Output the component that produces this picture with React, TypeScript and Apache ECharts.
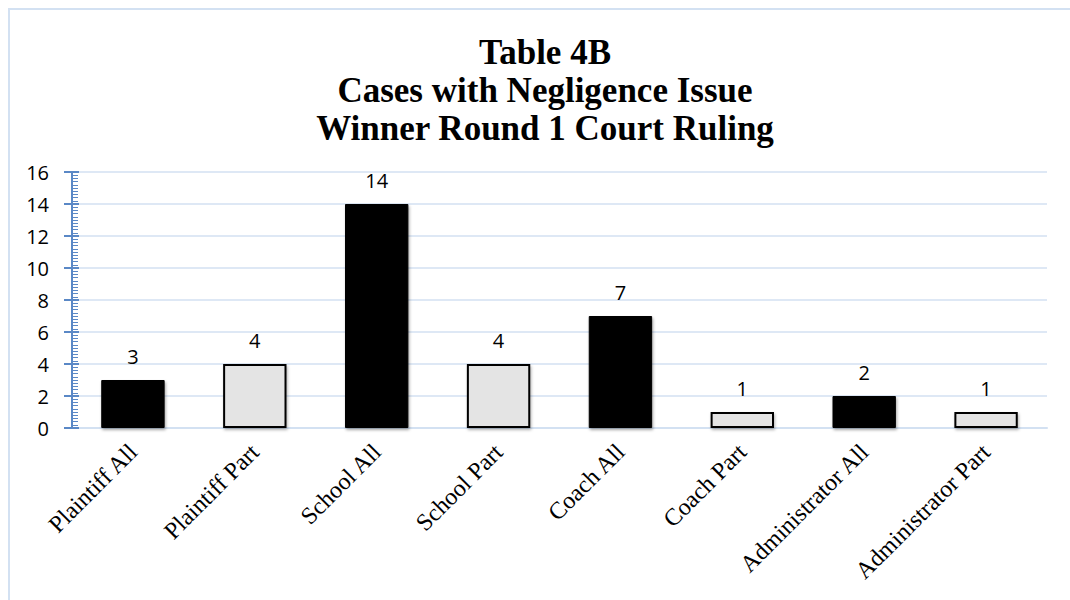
import React, { useEffect, useRef } from "react";
import * as echarts from "echarts";

const categories = [
  "Plaintiff All",
  "Plaintiff Part",
  "School All",
  "School Part",
  "Coach All",
  "Coach Part",
  "Administrator All",
  "Administrator Part",
];
const values = [3, 4, 14, 4, 7, 1, 2, 1];
const yTicks = [0, 2, 4, 6, 8, 10, 12, 14, 16];
const titleLines = ["Table 4B", "Cases with Negligence Issue", "Winner Round 1 Court Ruling"];

export default function App() {
  const ref = useRef<HTMLDivElement>(null);
  useEffect(() => {
    document.body.style.margin = "0";
    const chart = echarts.init(ref.current!, null, { renderer: "svg" });
    const axisBlue = "#5a88c6";
    const gridBlue = "#d3e1f2";
    chart.setOption({
      animation: false,
      backgroundColor: "#ffffff",
      title: {
        text: titleLines.join("\n"),
        left: 540,
        top: 28,
        textAlign: "center",
        textStyle: {
          fontFamily: "Liberation Serif",
          fontWeight: "bold",
          fontSize: 35,
          lineHeight: 38,
          color: "#000",
        },
      },
      graphic: [
        {
          type: "polyline",
          shape: { points: [[9, 600], [9, 9], [1070, 9]] },
          style: { stroke: gridBlue, lineWidth: 2, fill: null },
          silent: true,
        },
      ],
      grid: { left: 72, right: 23, top: 172, bottom: 172, containLabel: false },
      xAxis: {
        type: "category",
        data: categories,
        axisLine: { show: true, lineStyle: { color: gridBlue, width: 2 } },
        axisTick: { show: false },
        axisLabel: {
          rotate: 45,
          margin: 20,
          fontFamily: "Liberation Serif",
          fontSize: 24,
          color: "#000",
          interval: 0,
        },
      },
      yAxis: [
        {
          type: "value",
          min: yTicks[0],
          max: yTicks[yTicks.length - 1],
          interval: 2,
          axisLine: { show: true, lineStyle: { color: axisBlue, width: 2 } },
          axisTick: { show: true, inside: false, length: 8, lineStyle: { color: axisBlue, width: 2 } },
          axisLabel: {
            margin: 23,
            fontFamily: "Open Sans",
            fontSize: 20,
            color: "#000",
          },
          splitLine: { show: true, lineStyle: { color: gridBlue, width: 1.5 } },
        },
        {
          type: "value",
          min: yTicks[0],
          max: yTicks[yTicks.length - 1],
          interval: 2,
          position: "left",
          axisLine: { show: false },
          axisTick: { show: true, inside: true, length: 7, lineStyle: { color: axisBlue, width: 2 } },
          minorTick: { show: true, splitNumber: 10, length: 6, lineStyle: { color: axisBlue, width: 1 } },
          axisLabel: { show: false },
          splitLine: { show: false },
        },
      ],
      series: [
        {
          type: "bar",
          data: values.map((v, i) => ({
            value: v,
            itemStyle:
              i % 2 === 0
                ? {
                    color: "#000000",
                    borderColor: "#000000",
                    borderWidth: 1,
                    shadowColor: "rgba(0,0,0,0.35)",
                    shadowBlur: 3,
                    shadowOffsetX: 1,
                    shadowOffsetY: 2,
                  }
                : {
                    color: "#e4e4e4",
                    borderColor: "#000000",
                    borderWidth: 2,
                    shadowColor: "rgba(0,0,0,0.3)",
                    shadowBlur: 3,
                    shadowOffsetX: 1,
                    shadowOffsetY: 2,
                  },
          })),
          barWidth: "52%",
          label: {
            show: true,
            position: "top",
            distance: 14,
            fontFamily: "Open Sans",
            fontSize: 20,
            color: "#000",
          },
        },
      ],
    });
    return () => chart.dispose();
  }, []);
  return <div ref={ref} style={{ width: 1070, height: 600 }} />;
}
